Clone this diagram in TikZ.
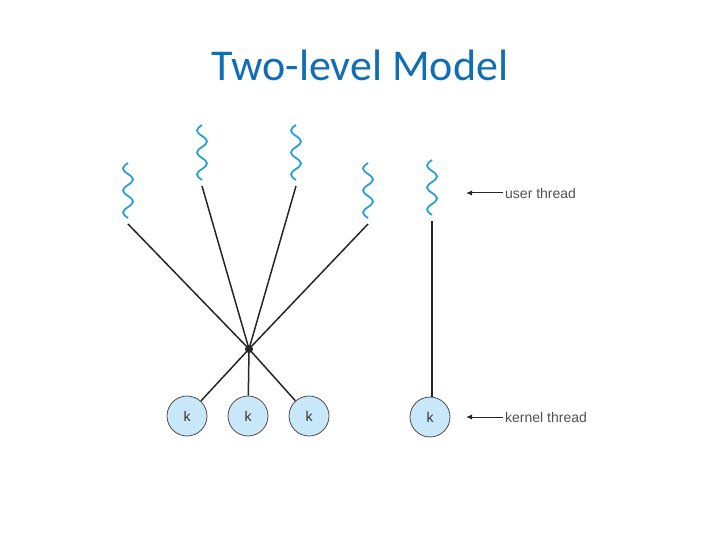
\documentclass[tikz,border=0pt]{standalone}
\usepackage{fontspec}
\newfontfamily\titlefont{Carlito}
\newfontfamily\labelfont{Liberation Sans}
\usetikzlibrary{arrows.meta}
\definecolor{titleblue}{RGB}{16,110,180}
\definecolor{wavecol}{RGB}{40,160,215}
\definecolor{kfill}{RGB}{200,232,250}
\definecolor{labgray}{RGB}{80,80,80}
\tikzset{
  wave/.style={wavecol, line width=1.8pt},
  conn/.style={black!85, line width=1.5pt},
  kthread/.style={circle, draw=black!70, fill=kfill, line width=0.8pt, minimum size=40pt, inner sep=0pt, font=\labelfont\fontsize{14}{16}\selectfont, text=black!80},
  lab/.style={anchor=west, inner sep=0pt, font=\labelfont\fontsize{14}{16}\selectfont, text=labgray},
  labarrow/.style={-{Latex[length=6pt,width=5pt]}, line width=1pt, black!85}
}
\newcommand{\userwave}[3]{%
  \draw[wave] (#1,#2) \foreach \s/\i in {-1/0,1/1,-1/2,1/3,-1/4} {
    .. controls ({#1+2.86*\s},{#2+\i*11+2}) and ({#1+5*\s},{#2+\i*11+3.5}) .. ({#1+5*\s},{#2+\i*11+5.5})
    .. controls ({#1+5*\s},{#2+\i*11+7.5}) and ({#1+2.86*\s},{#2+\i*11+9}) .. ({#1},{#2+\i*11+11})
  };
  \coordinate (#3) at (#1, #2+61);
}
\begin{document}
\begin{tikzpicture}[x=1pt, y=-1pt]
\useasboundingbox (0,0) rectangle (720,540);
\node[anchor=base, inner sep=0pt, font=\titlefont\fontsize{44}{50}\selectfont, text=titleblue] (title) at (360,81) {Two-level Model};

\userwave{128}{163}{u1}
\userwave{202}{125}{u2}
\userwave{296}{125}{u3}
\userwave{368}{163}{u4}
\userwave{432}{160}{u5}

\node[circle, fill=black!85, inner sep=0pt, minimum size=8pt] (hub) at (249,349) {};

\node[kthread] (k1) at (187,416) {k};
\node[kthread] (k2) at (248,416) {k};
\node[kthread] (k3) at (309,416) {k};
\node[kthread] (k4) at (430,417) {k};

\draw[conn] (u1) -- (hub.center);
\draw[conn] (u2) -- (hub.center);
\draw[conn] (u3) -- (hub.center);
\draw[conn] (u4) -- (hub.center);
\draw[conn] (hub.center) -- (k1);
\draw[conn] (hub.center) -- (k2);
\draw[conn] (hub.center) -- (k3);
\draw[conn] (u5) -- (u5 |- k4.north);

\node[lab] (ut) at (505,193) {user thread};
\node[lab] (kt) at (505,417) {kernel thread};
\coordinate (uta) at (466,193);
\coordinate (kta) at (466,417);
\draw[labarrow] (ut.west) ++(-2,0) -- (uta);
\draw[labarrow] (kt.west) ++(-2,0) -- (kta);
\end{tikzpicture}
\end{document}
